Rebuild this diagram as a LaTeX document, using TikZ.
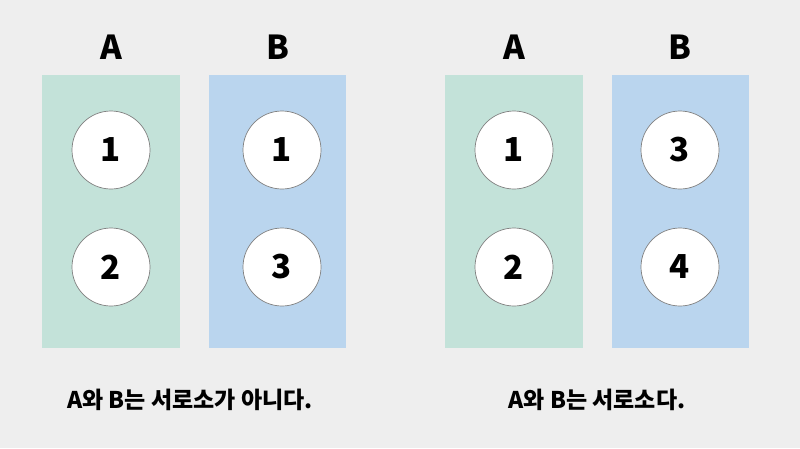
\documentclass[tikz,border=0pt]{standalone}
\usepackage{fontspec}
\setmainfont{Noto Sans CJK KR}[BoldFont={Noto Sans CJK KR Black}]
\definecolor{bg}{HTML}{EEEEEE}
\definecolor{grn}{HTML}{C3E2D9}
\definecolor{blu}{HTML}{BAD5EE}
\begin{document}
\begin{tikzpicture}[x=1pt,y=-1pt,
  panelA/.style={fill=grn,draw=none},
  panelB/.style={fill=blu,draw=none},
  ball/.style={circle,fill=white,draw=black!50,line width=0.7pt,minimum size=78pt,inner sep=0pt,font=\fontsize{33}{33}\selectfont\bfseries},
  head/.style={font=\fontsize{33}{33}\selectfont\bfseries},
  captxt/.style={font=\fontsize{23}{23}\selectfont\bfseries}]
\fill[bg] (0,0) rectangle (800,448);
\useasboundingbox (0,0) rectangle (800,448);
\fill[panelA] (42,75) rectangle (180,348);
\fill[panelB] (209,75) rectangle (346,348);
\fill[panelA] (445,75) rectangle (583,348);
\fill[panelB] (612,75) rectangle (749,348);
\node[head] (hA1) at (111,47) {A};
\node[head] (hB1) at (278,47) {B};
\node[head] (hA2) at (514,47) {A};
\node[head] (hB2) at (680,47) {B};
\node[ball] (a11) at (111,150) {1};
\node[ball] (a12) at (111,267) {2};
\node[ball] (b11) at (282,150) {1};
\node[ball] (b12) at (282,267) {3};
\node[ball] (a21) at (514,150) {1};
\node[ball] (a22) at (514,267) {2};
\node[ball] (b21) at (680,150) {3};
\node[ball] (b22) at (680,267) {4};
\node[captxt] (c1) at (190,400) {A와 B는 서로소가 아니다.};
\node[captxt] (c2) at (597,400) {A와 B는 서로소다.};
\end{tikzpicture}
\end{document}
